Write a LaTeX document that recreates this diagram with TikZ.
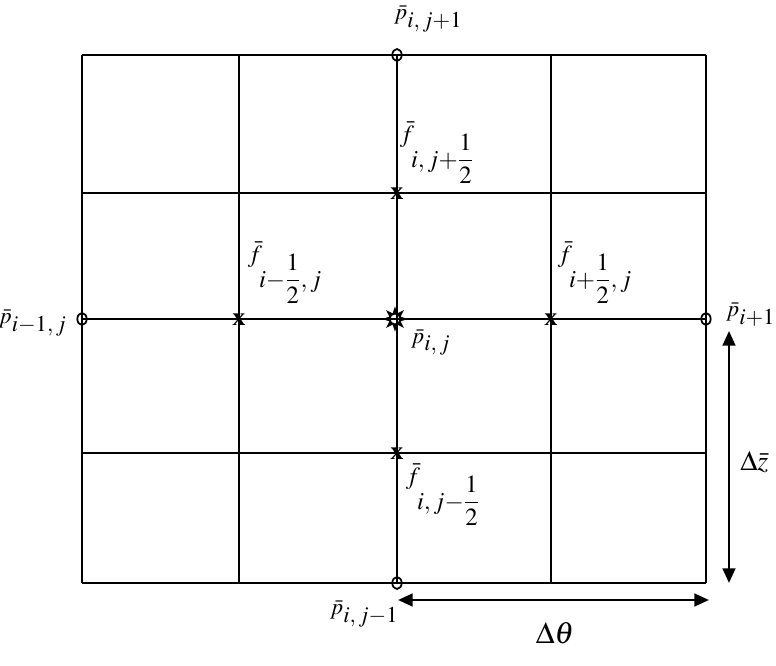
\documentclass[tikz,border=0pt]{standalone}
\usepackage{mathptmx}
\usepackage[no-math]{fontspec}
\setmainfont{Liberation Serif}
\usetikzlibrary{arrows.meta,positioning,shapes.geometric}
\newcommand{\pv}{\bar{p}}
\newcommand{\fv}{\bar{f}}
\newcommand{\hlf}{\frac{1}{2}}
\tikzset{
  gridline/.style={line width=1.4pt},
  omark/.style={ellipse,draw,line width=1.3pt,inner sep=0pt,minimum width=7pt,minimum height=9pt},
  xmark/.style={inner sep=0pt,font=\fontsize{19}{19}\selectfont\bfseries},
  cmark/.style={star,star points=8,star point ratio=2.1,fill=black,inner sep=0pt,minimum size=19pt},
  plabel/.style={inner sep=0pt,font=\fontsize{17}{19}\selectfont},
  flabel/.style={inner sep=0pt,font=\fontsize{18.5}{20}\selectfont},
  dim/.style={{Triangle[length=11pt,width=9.5pt]}-{Triangle[length=11pt,width=9.5pt]},line width=1.9pt}
}

\begin{document}
\begin{tikzpicture}[x=0.75pt,y=-0.75pt]
\useasboundingbox (0,0) rectangle (776,666);
% point and face markers
\node[omark] (pN) at (397,55) {};
\node[omark] (pW) at (82,319) {};
\node[omark] (pE) at (706,319) {};
\node[omark] (pS) at (397,583) {};
\node[xmark] (fN) at (397,194) {x};
\node[xmark] (fW) at (239,320) {x};
\node[xmark] (fE) at (551,320) {x};
\node[xmark] (fS) at (397,454) {x};
\node[cmark] (pC) at (395,319) {};
\node[circle,draw,fill=white,line width=1.1pt,inner sep=0pt,minimum size=8pt] (pCin) at (pC) {};
% grid
\foreach \x in {82,239,397,551,706}
  \draw[gridline] (\x,55) -- (\x,583);
\foreach \y in {55,193,319,453,583}
  \draw[gridline] (82,\y) -- (706,\y);
% labels
\node[plabel,anchor=west] (lpN) at (394,19) {$\pv_{\textstyle i{,}\,j{+}1}$};
\node[plabel,anchor=east] (lpW) at (67,323) {$\pv_{\textstyle i{-}1{,}\,j}$};
\node[plabel,anchor=west] (lpE) at (726,316) {$\pv_{\textstyle i{+}1{,}\,j}$};
\node[plabel,anchor=west] (lpC) at (411,343) {$\pv_{\textstyle i{,}\,j}$};
\node[plabel,anchor=west] (lpS) at (330,614) {$\pv_{\textstyle i{,}\,j{-}1}$};
\node[flabel] (lfN) at (437,153) {$\fv_{\displaystyle i,j{+}\hlf}$};
\node[flabel] (lfW) at (285,273) {$\fv_{\displaystyle i{-}\hlf,j}$};
\node[flabel] (lfE) at (595,273) {$\fv_{\displaystyle i{+}\hlf,j}$};
\node[flabel] (lfS) at (443,495) {$\fv_{\displaystyle i,j{-}\hlf}$};
% spacing arrows
\coordinate (dzTop) at (729,331);
\coordinate (dzBot) at (729,583);
\coordinate (dtL) at (398,600);
\coordinate (dtR) at (709,600);
\draw[dim] (dzTop) -- (dzBot);
\draw[dim] (dtL) -- (dtR);
\node[font=\fontsize{21}{23}\selectfont,anchor=west,inner sep=0pt] (ldz) at (740,462) {$\Delta\bar{z}$};
\node[font=\fontsize{23}{25}\selectfont,inner sep=0pt] (ldt) at (555,633) {$\Delta\theta$};
\end{tikzpicture}
\end{document}
